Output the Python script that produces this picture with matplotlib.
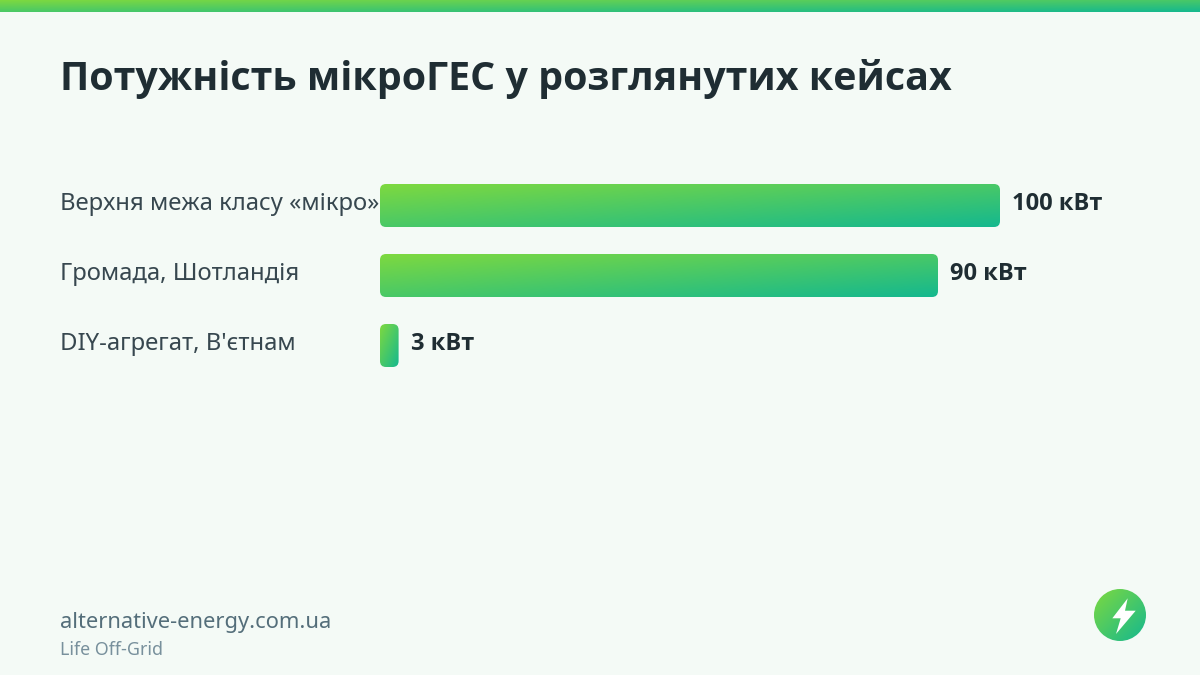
import numpy as np
import matplotlib
matplotlib.use("Agg")
import matplotlib.pyplot as plt
from matplotlib.patches import FancyBboxPatch, Circle, Polygon
from matplotlib.transforms import ScaledTranslation

plt.rcParams['font.family'] = ['Noto Sans', 'DejaVu Sans']
# Noto Sans here has no bold face, Open Sans Bold is the closest one
BOLD = ['Open Sans', 'DejaVu Sans']

title = "Потужність мікроГЕС у розглянутих кейсах"
categories = ["Верхня межа класу «мікро»", "Громада, Шотландія", "DIY-агрегат, В'єтнам"]
values = [100, 90, 3]
unit = "кВт"
site = "alternative-energy.com.ua"
tagline = "Life Off-Grid"

BG = "#f4faf6"
C1 = np.array([0x7e, 0xd9, 0x3f]) / 255
C2 = np.array([0x14, 0xb8, 0x8f]) / 255


def gradient(n=200):
    # goes corner to corner of whatever box it gets stretched over
    u, v = np.meshgrid(np.linspace(0, 1, n), np.linspace(0, 1, n))
    t = ((u + v) / 2)[..., None]
    return C1 * (1 - t) + C2 * t


fig = plt.figure(figsize=(12, 6.75), dpi=100, facecolor=BG)

# pixel canvas for everything that is not the chart
bg = fig.add_axes([0, 0, 1, 1])
bg.axis("off")

bg.imshow(gradient(), extent=(0, 1200, 12, 0), aspect="auto", zorder=1)

bg.text(60, 90, title, fontsize=28.33, fontweight="bold", family=BOLD, color="#1f2d33", va="baseline", ha="left")
bg.text(60, 628, site, fontsize=15.74, color="#546e7a", va="baseline", ha="left")
bg.text(60, 655, tagline, fontsize=12.85, color="#78909c", va="baseline", ha="left")

# logo
im = bg.imshow(gradient(), extent=(1094, 1146, 641, 589), aspect="auto", zorder=1)
circ = Circle((1120, 615), 26, fc="none", ec="none")
bg.add_patch(circ)
im.set_clip_path(circ)
bolt_x = [1127.7, 1112.3, 1120.7, 1116, 1135.7, 1125]
bolt_y = [598.3, 618.3, 618.3, 634, 610.7, 610.7]
bg.add_patch(Polygon(np.column_stack([bolt_x, bolt_y]), closed=True, fc="white", ec="none", zorder=2))

bg.set_xlim(0, 1200)
bg.set_ylim(675, 0)

# chart axes: 620 px wide for 100 kW, rows 70 px apart
ax = fig.add_axes([380 / 1200, 1 - 380.5 / 675, 620 / 1200, 210 / 675])
ax.patch.set_alpha(0)
ypos = np.arange(len(values))
bars = ax.barh(ypos, values, height=43 / 70, color="none")
ax.set_xlim(0, 100)
ax.set_ylim(2.5, -0.5)
for s in ax.spines.values():
    s.set_visible(False)
ax.xaxis.set_visible(False)
ax.set_yticks(ypos)
ax.set_yticklabels(categories, fontsize=17.2, color="#37474f", ha="left", va="baseline")
ax.tick_params(axis="y", length=0, pad=320 * 0.72)
# baseline sits a bit under the bar middle
down = ScaledTranslation(0, -4.5 * 0.72 / 72, fig.dpi_scale_trans)
for lab in ax.get_yticklabels():
    lab.set_transform(lab.get_transform() + down)

for bar, val in zip(bars, values):
    x0, y0 = bar.get_x(), bar.get_y()
    w, h = bar.get_width(), bar.get_height()
    img = ax.imshow(gradient(), extent=(x0, x0 + w, y0 + h, y0), aspect="auto", zorder=2)
    # rounded corners done in pixels, data units are not square here
    p0 = bg.transData.inverted().transform(ax.transData.transform((x0, y0)))
    p1 = bg.transData.inverted().transform(ax.transData.transform((x0 + w, y0 + h)))
    r = 6
    clip = FancyBboxPatch((p0[0] + r, p0[1] + r), p1[0] - p0[0] - 2 * r, p1[1] - p0[1] - 2 * r,
                          boxstyle="round,pad=%d,rounding_size=%d" % (r, r),
                          transform=bg.transData, fc="none", ec="none")
    bg.add_patch(clip)
    img.set_clip_path(clip)
    ax.annotate("%d %s" % (val, unit), xy=(x0 + w, y0 + h / 2), xytext=(12 * 0.72, -4.5 * 0.72),
                textcoords="offset points", fontsize=17, fontweight="bold", family=BOLD,
                color="#1f2d33", va="baseline", ha="left")

ax.set_xlim(0, 100)
ax.set_ylim(2.5, -0.5)

fig.savefig("out.png", dpi=100, facecolor=BG)
